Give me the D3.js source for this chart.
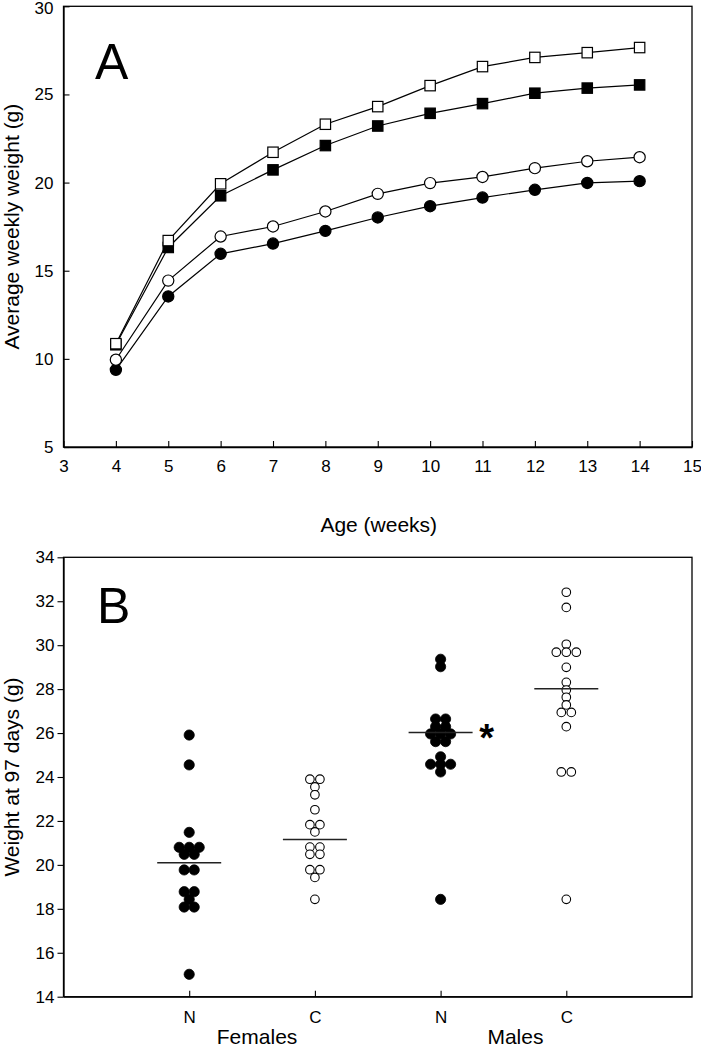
<!DOCTYPE html>
<html>
<head>
<meta charset="utf-8">
<script src="https://cdn.jsdelivr.net/npm/d3@7"></script>
<style>
  html, body { margin: 0; padding: 0; background: #fff; }
  svg { display: block; font-family: "Liberation Sans", Arial, sans-serif; }
  svg text { font-family: "Liberation Sans", Arial, sans-serif; fill: #000; }
</style>
</head>
<body>
<svg id="chart" width="701" height="1050"></svg>
<script>
// ---------- Panel A data ----------
const weeks = [4, 5, 6, 7, 8, 9, 10, 11, 12, 13, 14];
const maleControl  = [10.86, 16.71, 19.93, 21.72, 23.31, 24.31, 25.50, 26.58, 27.10, 27.37, 27.66]; // open squares
const maleN        = [10.80, 16.32, 19.25, 20.72, 22.10, 23.21, 23.93, 24.48, 25.07, 25.36, 25.54]; // filled squares
const femaleControl= [9.95, 14.44, 16.94, 17.51, 18.36, 19.36, 19.97, 20.32, 20.82, 21.21, 21.44]; // open circles
const femaleN      = [9.38, 13.54, 15.96, 16.54, 17.26, 18.02, 18.66, 19.15, 19.59, 19.98, 20.08]; // filled circles
const xTicksA = [3, 4, 5, 6, 7, 8, 9, 10, 11, 12, 13, 14, 15];
const yTicksA = [5, 10, 15, 20, 25, 30];

// ---------- Panel B data ----------
const groupLabels = ["N", "C", "N", "C"];
const sexLabels = ["Females", "Males"];
const femalesN = [25.91, 24.55, 21.48, 20.8, 20.8, 20.8, 20.48, 20.48, 19.77, 19.77, 18.78, 18.78, 18.43, 18.08, 18.08, 15.02];
const femalesC = [23.9, 23.9, 23.55, 23.19, 22.51, 21.83, 21.83, 21.5, 20.81, 20.81, 20.48, 20.48, 19.78, 19.78, 19.43, 18.43];
const malesN   = [29.36, 29.02, 26.64, 26.64, 26.29, 26.29, 25.96, 25.96, 25.96, 25.61, 25.61, 24.92, 24.58, 24.58, 24.58, 24.23, 18.43];
const malesC   = [32.41, 31.72, 30.04, 29.68, 29.68, 29.68, 28.99, 28.31, 27.96, 27.63, 27.28, 26.94, 26.94, 26.29, 24.23, 24.23, 18.43];
const groupMeans = [20.10, 21.15, 26.03, 28.02];
const yTicksB = [14, 16, 18, 20, 22, 24, 26, 28, 30, 32, 34];

const svg = d3.select("#chart");
svg.append("rect").attr("width", 701).attr("height", 1050).attr("fill", "#fff");

const L = 63.5, R = 692;

// =============== Panel A ===============
const xA = d3.scaleLinear().domain([3, 15]).range([L, R]);
const yA = d3.scaleLinear().domain([5, 30]).range([447, 6.3]);

const gA = svg.append("g");
gA.append("rect").attr("x", L).attr("y", yA(30)).attr("width", R - L).attr("height", yA(5) - yA(30))
  .attr("fill", "none").attr("stroke", "#000").attr("stroke-width", 1.3);

const axA_x = gA.append("g").attr("transform", `translate(0,${yA(5)})`)
  .call(d3.axisBottom(xA).tickValues(xTicksA).tickSizeInner(-6).tickSizeOuter(0).tickPadding(13).tickFormat(d3.format("d")));
const axA_y = gA.append("g").attr("transform", `translate(${L},0)`)
  .call(d3.axisLeft(yA).tickValues(yTicksA).tickSizeInner(-6).tickSizeOuter(0).tickPadding(10).tickFormat(d3.format("d")));
[axA_x, axA_y].forEach(a => {
  a.selectAll("path.domain").attr("stroke", "#000").attr("stroke-width", 1.3);
  a.selectAll(".tick line").attr("stroke", "#000").attr("stroke-width", 1.1);
  a.selectAll(".tick text").attr("font-size", 17).attr("font-family", "Liberation Sans, Arial, sans-serif");
});
// keep the top label ("30") inside the picture
axA_y.selectAll(".tick text").filter(d => d === 30).attr("dy", "0.45em");

const lineA = d3.line().x((d, i) => xA(weeks[i])).y(d => yA(d));
const seriesA = [
  { vals: femaleN, shape: "circle", fill: "#000" },
  { vals: femaleControl, shape: "circle", fill: "#fff" },
  { vals: maleN, shape: "square", fill: "#000" },
  { vals: maleControl, shape: "square", fill: "#fff" }
];
seriesA.forEach(s => {
  gA.append("path").datum(s.vals).attr("d", lineA)
    .attr("fill", "none").attr("stroke", "#000").attr("stroke-width", 1.2);
});
seriesA.forEach(s => {
  const g = gA.append("g");
  if (s.shape === "circle") {
    g.selectAll("circle").data(s.vals).join("circle")
      .attr("cx", (d, i) => xA(weeks[i])).attr("cy", d => yA(d)).attr("r", 5.6)
      .attr("fill", s.fill).attr("stroke", "#000").attr("stroke-width", 1.2);
  } else {
    g.selectAll("rect").data(s.vals).join("rect")
      .attr("x", (d, i) => xA(weeks[i]) - 5.2).attr("y", d => yA(d) - 5.2)
      .attr("width", 10.4).attr("height", 10.4)
      .attr("fill", s.fill).attr("stroke", "#000").attr("stroke-width", 1.2);
  }
});

gA.append("text").attr("x", 95).attr("y", 79).attr("font-size", 50).text("A");
gA.append("text").attr("transform", `translate(19,${(yA(5) + yA(30)) / 2}) rotate(-90)`)
  .attr("text-anchor", "middle").attr("font-size", 21).text("Average weekly weight (g)");
gA.append("text").attr("x", (L + R) / 2 + 1).attr("y", 532).attr("text-anchor", "middle")
  .attr("font-size", 21).text("Age (weeks)");

// =============== Panel B ===============
const xB = d3.scaleLinear().domain([0, 5]).range([L, R]);
const yB = d3.scaleLinear().domain([14, 34]).range([996.7, 557.3]);

const gB = svg.append("g");
gB.append("rect").attr("x", L).attr("y", yB(34)).attr("width", R - L).attr("height", yB(14) - yB(34))
  .attr("fill", "none").attr("stroke", "#000").attr("stroke-width", 1.3);

const axB_x = gB.append("g").attr("transform", `translate(0,${yB(14)})`)
  .call(d3.axisBottom(xB).tickValues([1, 2, 3, 4]).tickSizeInner(-6).tickSizeOuter(0).tickPadding(14)
    .tickFormat((d, i) => groupLabels[i]));
const axB_y = gB.append("g").attr("transform", `translate(${L},0)`)
  .call(d3.axisLeft(yB).tickValues(yTicksB).tickSizeInner(6).tickSizeOuter(0).tickPadding(3).tickFormat(d3.format("d")));
[axB_x, axB_y].forEach(a => {
  a.selectAll("path.domain").attr("stroke", "#000").attr("stroke-width", 1.3);
  a.selectAll(".tick line").attr("stroke", "#000").attr("stroke-width", 1.1);
  a.selectAll(".tick text").attr("font-size", 17).attr("font-family", "Liberation Sans, Arial, sans-serif");
});

const groupsB = [
  { vals: femalesN, fill: "#000", r: 5.1 },
  { vals: femalesC, fill: "#fff", r: 4.3 },
  { vals: malesN, fill: "#000", r: 5.1 },
  { vals: malesC, fill: "#fff", r: 4.3 }
];
const spacing = 10;
groupsB.forEach((grp, gi) => {
  // group equal values into horizontal rows
  const rows = d3.group(grp.vals, v => v);
  const pts = [];
  rows.forEach((arr) => {
    arr.forEach((val, k) => pts.push({ v: val, off: (k - (arr.length - 1) / 2) * spacing }));
  });
  gB.append("g").selectAll("circle").data(pts).join("circle")
    .attr("cx", d => xB(gi + 1) + d.off).attr("cy", d => yB(d.v)).attr("r", grp.r)
    .attr("fill", grp.fill).attr("stroke", "#000").attr("stroke-width", grp.fill === "#fff" ? 1.1 : 0.8);
});

gB.append("g").selectAll("line").data(groupMeans).join("line")
  .attr("x1", (d, i) => xB(i + 1) - 32).attr("x2", (d, i) => xB(i + 1) + 32)
  .attr("y1", d => yB(d)).attr("y2", d => yB(d))
  .attr("stroke", "#222").attr("stroke-width", 1.5);

// significance mark
gB.append("text").attr("x", xB(3) + 46).attr("y", yB(groupMeans[2]) + 19)
  .attr("text-anchor", "middle").attr("font-size", 38).attr("font-weight", "bold").text("*");

gB.append("text").attr("x", 97).attr("y", 623).attr("font-size", 50).text("B");
gB.append("text").attr("transform", `translate(19,${(yB(14) + yB(34)) / 2}) rotate(-90)`)
  .attr("text-anchor", "middle").attr("font-size", 21).text("Weight at 97 days (g)");

gB.append("g").selectAll("text").data(sexLabels).join("text")
  .attr("x", (d, i) => i === 0 ? (xB(1) + xB(2)) / 2 + 5 : (xB(3) + xB(4)) / 2 + 12)
  .attr("y", 1044).attr("text-anchor", "middle").attr("font-size", 21).text(d => d);
</script>
</body>
</html>
